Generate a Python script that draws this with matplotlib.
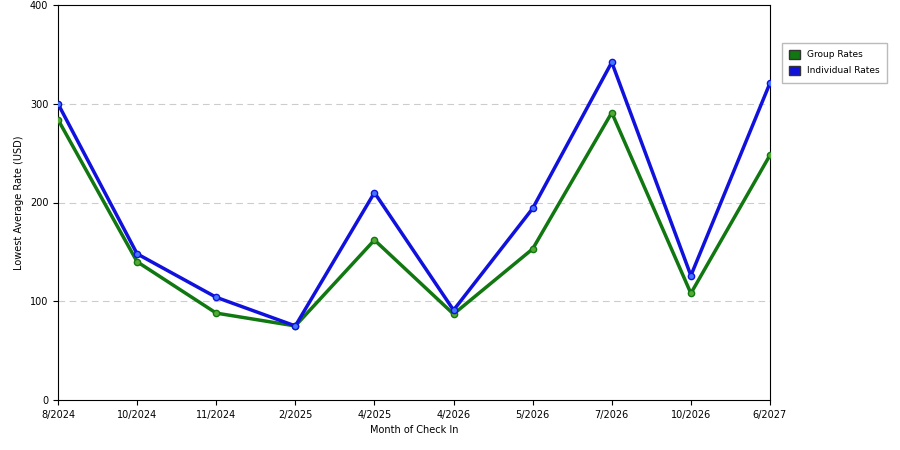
import matplotlib
matplotlib.use("Agg")
import matplotlib.pyplot as plt
from matplotlib.patches import Patch

months = ["8/2024", "10/2024", "11/2024", "2/2025", "4/2025", "4/2026",
          "5/2026", "7/2026", "10/2026", "6/2027"]
group_rates = [284, 140, 88, 75, 162, 87, 153, 291, 108, 248]
individual_rates = [300, 148, 104, 75, 210, 91, 194, 342, 126, 321]

fig = plt.figure(figsize=(9, 4.5), dpi=100)
ax = fig.add_axes([58/900, 1 - 400/450, 712/900, 395/450])

x = list(range(len(months)))
ax.plot(x, group_rates, color="#117711", lw=2.5, marker="o", ms=4.5,
        mfc="#55aa33", mec="#117711", zorder=3)
ax.plot(x, individual_rates, color="#1111dd", lw=2.5, marker="o", ms=4.5,
        mfc="#4477ff", mec="#1111dd", zorder=3)

ax.set_xlim(0, len(months) - 1)
ax.set_ylim(0, 400)
ax.set_xticks(x)
ax.set_xticklabels(months, fontsize=7)
ax.set_yticks([0, 100, 200, 300, 400])
ax.tick_params(axis="y", labelsize=7)
for yv in [100, 200, 300]:
    ax.axhline(yv, color="#cccccc", lw=0.8, ls=(0, (6, 4)), zorder=1)
ax.set_xlabel("Month of Check In", fontsize=7)
ax.set_ylabel("Lowest Average Rate (USD)", fontsize=7)

handles = [Patch(facecolor="#117711", edgecolor="#333333", label="Group Rates"),
           Patch(facecolor="#1111dd", edgecolor="#333333", label="Individual Rates")]
fig.legend(handles=handles, loc="upper left", bbox_to_anchor=(777/900, 1 - 38/450),
           fontsize=6.5, frameon=True, fancybox=False, edgecolor="#aaaaaa",
           handlelength=1.2, handleheight=1.2, labelspacing=0.7, borderpad=0.8)

fig.savefig("out.png", dpi=100)
